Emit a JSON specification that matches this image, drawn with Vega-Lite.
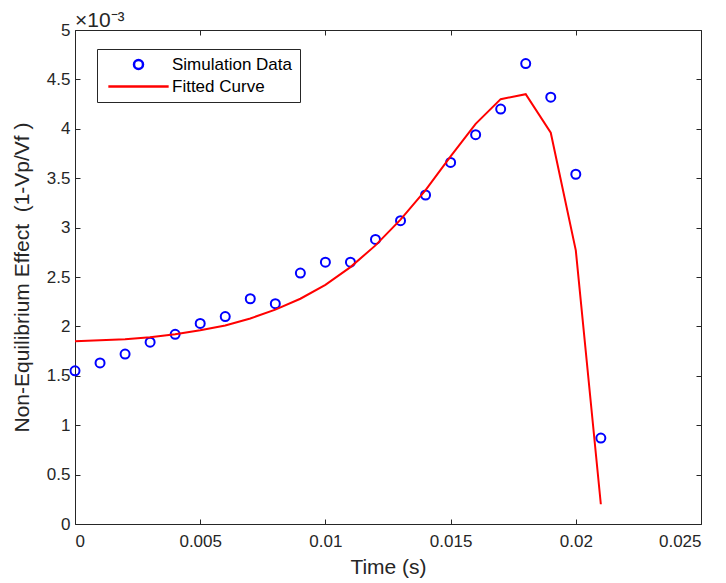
{
  "$schema": "https://vega.github.io/schema/vega-lite/v6.json",
  "width": 626,
  "height": 494,
  "autosize": "none",
  "padding": {"left": 75, "top": 30, "right": 25, "bottom": 59},
  "background": "white",
  "config": {
    "font": "Liberation Sans",
    "view": {"stroke": "#262626", "strokeWidth": 1},
    "axis": {
      "domain": false,
      "grid": false,
      "tickColor": "#262626",
      "tickSize": -5,
      "labelColor": "#262626",
      "labelFontSize": 17,
      "labelFont": "Liberation Sans",
      "titleColor": "#262626",
      "titleFontSize": 21,
      "titleFontWeight": "normal",
      "titleFont": "Liberation Sans"
    }
  },
  "title": {
    "text": "×10⁻³",
    "anchor": "start",
    "frame": "group",
    "fontSize": 21,
    "fontWeight": "normal",
    "color": "#262626",
    "font": "Liberation Sans",
    "offset": -10
  },
  "data": {
    "values": [
      {"series": "Simulation Data", "t": 0.000, "value": 0.00155},
      {"series": "Simulation Data", "t": 0.001, "value": 0.00163},
      {"series": "Simulation Data", "t": 0.002, "value": 0.00172},
      {"series": "Simulation Data", "t": 0.003, "value": 0.00184},
      {"series": "Simulation Data", "t": 0.004, "value": 0.00192},
      {"series": "Simulation Data", "t": 0.005, "value": 0.00203},
      {"series": "Simulation Data", "t": 0.006, "value": 0.00210},
      {"series": "Simulation Data", "t": 0.007, "value": 0.00228},
      {"series": "Simulation Data", "t": 0.008, "value": 0.00223},
      {"series": "Simulation Data", "t": 0.009, "value": 0.00254},
      {"series": "Simulation Data", "t": 0.010, "value": 0.00265},
      {"series": "Simulation Data", "t": 0.011, "value": 0.00265},
      {"series": "Simulation Data", "t": 0.012, "value": 0.00288},
      {"series": "Simulation Data", "t": 0.013, "value": 0.00307},
      {"series": "Simulation Data", "t": 0.014, "value": 0.00333},
      {"series": "Simulation Data", "t": 0.015, "value": 0.00366},
      {"series": "Simulation Data", "t": 0.016, "value": 0.00394},
      {"series": "Simulation Data", "t": 0.017, "value": 0.00420},
      {"series": "Simulation Data", "t": 0.018, "value": 0.00466},
      {"series": "Simulation Data", "t": 0.019, "value": 0.00432},
      {"series": "Simulation Data", "t": 0.020, "value": 0.00354},
      {"series": "Simulation Data", "t": 0.021, "value": 0.00087},
      {"series": "Fitted Curve", "t": 0.000, "value": 0.00185},
      {"series": "Fitted Curve", "t": 0.001, "value": 0.00186},
      {"series": "Fitted Curve", "t": 0.002, "value": 0.00187},
      {"series": "Fitted Curve", "t": 0.003, "value": 0.00189},
      {"series": "Fitted Curve", "t": 0.004, "value": 0.00192},
      {"series": "Fitted Curve", "t": 0.005, "value": 0.00196},
      {"series": "Fitted Curve", "t": 0.006, "value": 0.00201},
      {"series": "Fitted Curve", "t": 0.007, "value": 0.00208},
      {"series": "Fitted Curve", "t": 0.008, "value": 0.00217},
      {"series": "Fitted Curve", "t": 0.009, "value": 0.00228},
      {"series": "Fitted Curve", "t": 0.010, "value": 0.00242},
      {"series": "Fitted Curve", "t": 0.011, "value": 0.00260},
      {"series": "Fitted Curve", "t": 0.012, "value": 0.00282},
      {"series": "Fitted Curve", "t": 0.013, "value": 0.00308},
      {"series": "Fitted Curve", "t": 0.014, "value": 0.00338},
      {"series": "Fitted Curve", "t": 0.015, "value": 0.00372},
      {"series": "Fitted Curve", "t": 0.016, "value": 0.00405},
      {"series": "Fitted Curve", "t": 0.017, "value": 0.00430},
      {"series": "Fitted Curve", "t": 0.018, "value": 0.00435},
      {"series": "Fitted Curve", "t": 0.019, "value": 0.00396},
      {"series": "Fitted Curve", "t": 0.020, "value": 0.00277},
      {"series": "Fitted Curve", "t": 0.021, "value": 0.00020}
    ]
  },
  "layer": [
    {
      "transform": [{"filter": "datum.series === 'Simulation Data'"}],
      "mark": {"type": "point", "filled": false, "strokeWidth": 2, "size": 81, "opacity": 1},
      "encoding": {
        "x": {
          "field": "t", "type": "quantitative",
          "scale": {"domain": [0, 0.025], "nice": false, "zero": false},
          "axis": {"values": [0, 0.005, 0.01, 0.015, 0.02, 0.025], "labelExpr": "format(datum.value, '~g')", "title": "Time (s)", "titlePadding": 7, "labelPadding": 14}
        },
        "y": {
          "field": "value", "type": "quantitative",
          "scale": {"domain": [0, 0.005], "nice": false, "zero": false},
          "axis": {"values": [0, 0.0005, 0.001, 0.0015, 0.002, 0.0025, 0.003, 0.0035, 0.004, 0.0045, 0.005], "labelExpr": "format(datum.value * 1000, '~g')", "title": "Non-Equilibrium Effect\u00a0\u00a0(1-Vp/Vf\u00a0)", "titlePadding": 14, "labelPadding": 10}
        },
        "color": {
          "field": "series", "type": "nominal",
          "scale": {"domain": ["Simulation Data", "Fitted Curve"], "range": ["#0000ff", "#ff0000"]},
          "legend": {
            "title": null,
            "orient": "none",
            "legendX": 22,
            "legendY": 19,
            "fillColor": "white",
            "strokeColor": "#262626",
            "padding": 7,
            "labelFontSize": 17,
            "labelColor": "#000000",
            "labelFont": "Liberation Sans",
            "symbolStrokeWidth": 2.5,
            "symbolSize": 81,
            "symbolOffset": 26,
            "labelOffset": 25,
            "rowPadding": 3,
            "symbolFillColor": "transparent"
          }
        },
        "shape": {
          "field": "series", "type": "nominal",
          "scale": {"domain": ["Simulation Data", "Fitted Curve"], "range": ["circle", "M-6.7,0L6.7,0"]}
        }
      }
    },
    {
      "transform": [{"filter": "datum.series === 'Fitted Curve'"}],
      "mark": {"type": "line", "strokeWidth": 2},
      "encoding": {
        "x": {
          "field": "t", "type": "quantitative",
          "axis": {"orient": "top", "values": [0, 0.005, 0.01, 0.015, 0.02, 0.025], "labels": false, "title": null}
        },
        "y": {
          "field": "value", "type": "quantitative",
          "axis": {"orient": "right", "values": [0, 0.0005, 0.001, 0.0015, 0.002, 0.0025, 0.003, 0.0035, 0.004, 0.0045, 0.005], "labels": false, "title": null}
        },
        "color": {"field": "series", "type": "nominal"}
      }
    }
  ],
  "resolve": {"axis": {"x": "independent", "y": "independent"}}
}
